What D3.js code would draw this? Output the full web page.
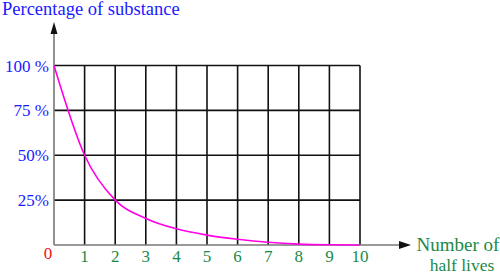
<!DOCTYPE html>
<html><head><meta charset="utf-8">
<script src="https://cdn.jsdelivr.net/npm/d3@7"></script>
<style>body{margin:0;background:#fff}svg{display:block}text{font-family:"Liberation Serif","DejaVu Serif",serif}</style>
</head><body><svg id="c" width="500" height="274"></svg>
<script>
const halfLives = [0,1,2,3,4,5,6,7,8,9,10];
const percent = [100,50,25,14.8,9,5.5,3.2,1.5,0.5,0.1,0];
const xTicks = [1,2,3,4,5,6,7,8,9,10];
const yTicks = [25,50,75,100];
const yLabels = ["25%","50%","75 %","100 %"];

const svg = d3.select("#c");
const x = d3.scaleLinear().domain([0,10]).range([54,360]);
const y = d3.scaleLinear().domain([0,100]).range([245,65.5]);

// grid
const g = svg.append("g").attr("stroke","#111").attr("stroke-width",1.6);
xTicks.forEach(t=>g.append("line").attr("x1",x(t)).attr("x2",x(t)).attr("y1",y(0)).attr("y2",y(100)));
yTicks.forEach(t=>g.append("line").attr("x1",x(0)).attr("x2",x(10)).attr("y1",y(t)).attr("y2",y(t)));

// axes
svg.append("line").attr("x1",x(0)).attr("x2",x(0)).attr("y1",y(0)).attr("y2",30).attr("stroke","#777").attr("stroke-width",1.6);
svg.append("path").attr("d",`M${x(0)-3.5},34 L${x(0)},22 L${x(0)+3.5},34 Z`).attr("fill","#111");
svg.append("line").attr("x1",x(0)).attr("x2",403).attr("y1",y(0)).attr("y2",y(0)).attr("stroke","#777").attr("stroke-width",1.6);
svg.append("path").attr("d",`M399,${y(0)-4} L411,${y(0)} L399,${y(0)+4} Z`).attr("fill","#111");

// curve
svg.append("path").datum(halfLives.map((h,i)=>[h,percent[i]]))
  .attr("d",d3.line().x(d=>x(d[0])).y(d=>y(d[1])).curve(d3.curveMonotoneX))
  .attr("fill","none").attr("stroke","#ff00e6").attr("stroke-width",1.6);

// labels
svg.append("text").attr("x",2).attr("y",15).attr("fill","#1a1aff").attr("font-size",18.5).text("Percentage of substance");
yTicks.forEach((t,i)=>svg.append("text").attr("x",49).attr("y",y(t)+6).attr("text-anchor","end")
  .attr("fill","#1a1aff").attr("font-size",17).text(yLabels[i]));
svg.append("text").attr("x",48).attr("y",259).attr("text-anchor","middle").attr("fill","#ee1111").attr("font-size",17).text("0");
xTicks.forEach(t=>svg.append("text").attr("x",x(t)).attr("y",262).attr("text-anchor","middle")
  .attr("fill","#1a8a4a").attr("font-size",17).text(t));
svg.append("text").attr("x",458).attr("y",251).attr("text-anchor","middle").attr("fill","#1a8a4a").attr("font-size",19).text("Number of");
svg.append("text").attr("x",462).attr("y",271).attr("text-anchor","middle").attr("fill","#1a8a4a").attr("font-size",17.5).text("half lives");
</script></body></html>
